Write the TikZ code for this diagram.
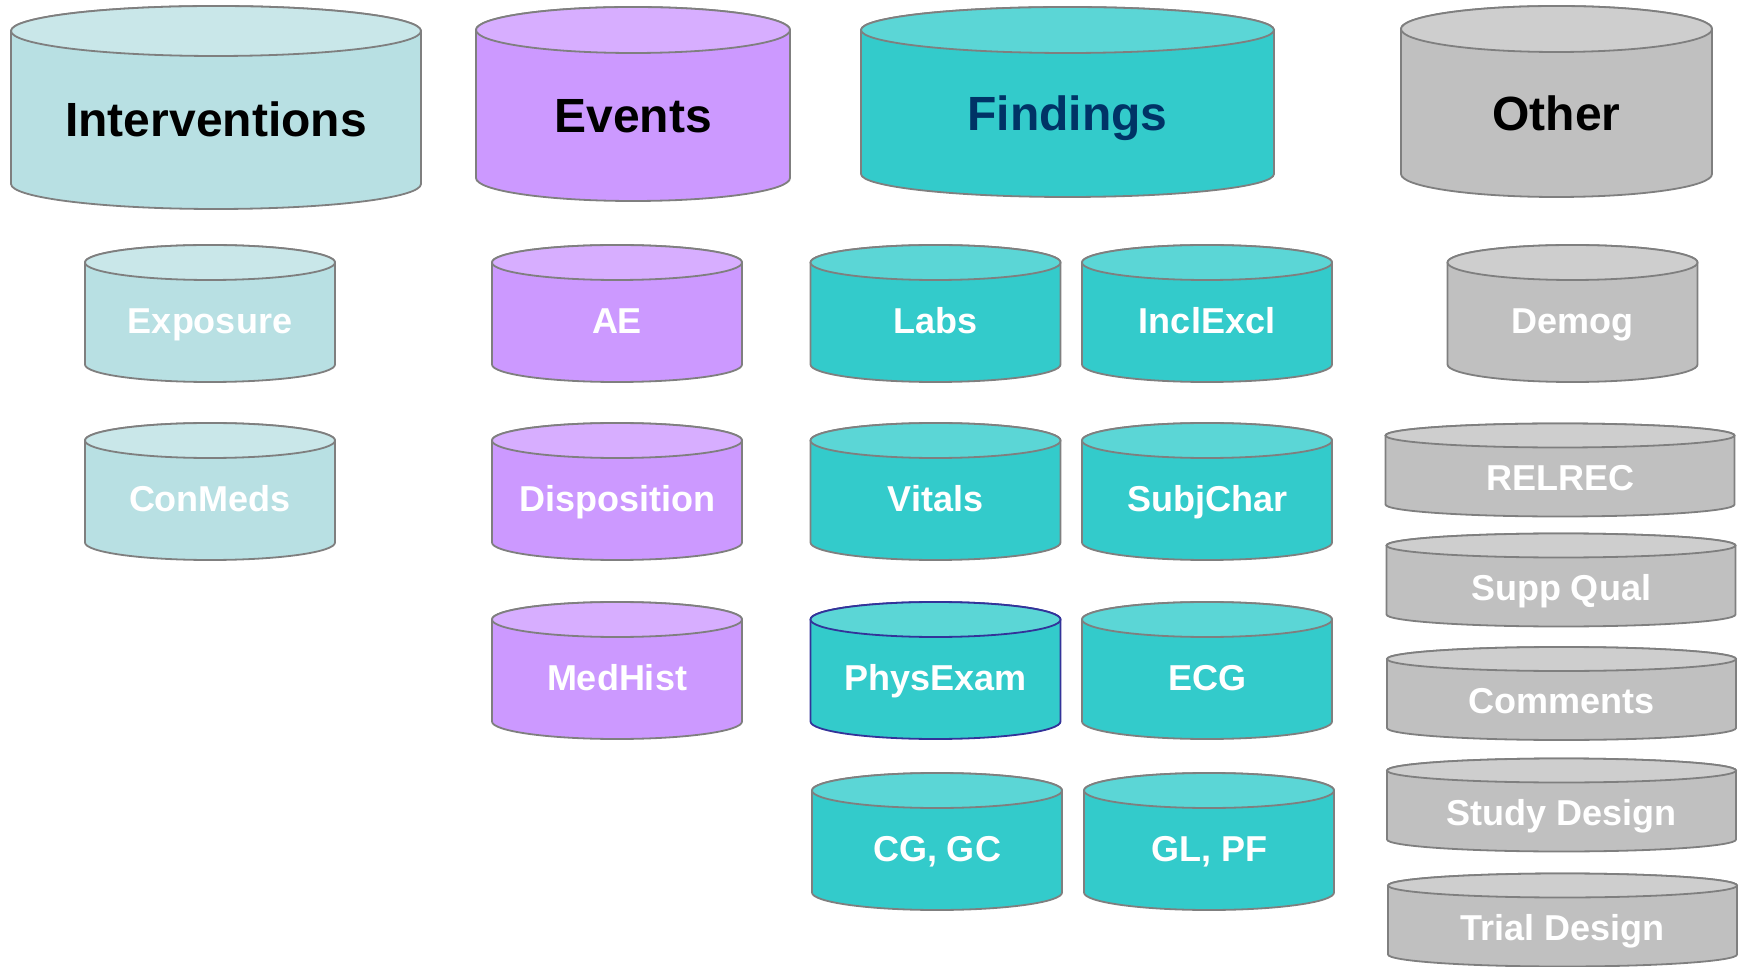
\documentclass[tikz,border=0pt]{standalone}
\usepackage{fontspec}
\setmainfont{Liberation Sans}
\usetikzlibrary{calc, backgrounds}

\definecolor{intbody}{HTML}{B8E0E3}
\definecolor{inttop}{HTML}{C9E7E9}
\definecolor{evbody}{HTML}{CC99FF}
\definecolor{evtop}{HTML}{D7AEFF}
\definecolor{findbody}{HTML}{33CBCB}
\definecolor{findtop}{HTML}{5BD6D6}
\definecolor{othbody}{HTML}{C0C0C0}
\definecolor{othtop}{HTML}{CECECE}
\definecolor{cylline}{HTML}{7F7F7F}
\definecolor{physline}{HTML}{333399}
\definecolor{findtext}{HTML}{003366}

\begin{document}
\begin{tikzpicture}[%
		x=0.5pt, y=-0.5pt,
		classbox/.style={
			rectangle,
			inner sep=0pt,
			outer sep=0pt,
			font=\fontsize{24}{28}\selectfont\bfseries,
			text height=28.7pt,
			text depth=0pt
		},
		dombox/.style={
			rectangle,
			inner sep=0pt,
			outer sep=0pt,
			minimum width=125pt,
			minimum height=68.5pt,
			text=white,
			font=\fontsize{18}{21}\selectfont\bfseries,
			text height=20.4pt,
			text depth=0pt
		},
		flatbox/.style={
			dombox,
			minimum width=174.5pt,
			minimum height=46.5pt
		}]

		\useasboundingbox (0,0) rectangle (1744,967);

		% CLASSES

		\node[classbox, minimum width=205pt, minimum height=101.5pt] (interv) at (216,107.5) {Interventions};
		\node[classbox, minimum width=157pt, minimum height=97pt] (events) at (633,104) {Events};
		\node[classbox, minimum width=206.5pt, minimum height=95pt, text=findtext] (find) at (1067.5,102) {Findings};
		\node[classbox, minimum width=155.5pt, minimum height=95.5pt] (other) at (1556.5,101.5) {Other};

		% INTERVENTIONS DOMAINS

		\node[dombox] (expo) at (210,313.5) {Exposure};
		\node[dombox] (conmeds) at (210,491.5) {ConMeds};

		% EVENTS DOMAINS

		\node[dombox] (ae) at (617,313.5) {AE};
		\node[dombox] (dispo) at (617,491.5) {Disposition};
		\node[dombox] (medhist) at (617,670.5) {MedHist};

		% FINDINGS DOMAINS

		\node[dombox] (labs) at (935.5,313.5) {Labs};
		\node[dombox] (vitals) at (935.5,491.5) {Vitals};
		\node[dombox] (physexam) at (935.5,670.5) {PhysExam};
		\node[dombox] (cggc) at (937,841.5) {CG, GC};
		\node[dombox] (inclexcl) at (1207,313.5) {InclExcl};
		\node[dombox] (subjchar) at (1207,491.5) {SubjChar};
		\node[dombox] (ecg) at (1207,670.5) {ECG};
		\node[dombox] (glpf) at (1209,841.5) {GL, PF};

		% OTHER DOMAINS

		\node[dombox] (demog) at (1572.5,313.5) {Demog};
		\node[flatbox] (relrec) at (1560,470) {RELREC};
		\node[flatbox] (suppqual) at (1561,580) {Supp Qual};
		\node[flatbox] (comments) at (1561.5,693.5) {Comments};
		\node[flatbox] (studydes) at (1561.5,805) {Study Design};
		\node[flatbox] (trialdes) at (1562.5,920) {Trial Design};

		% CYLINDERS

		\begin{scope}[on background layer]
			\foreach \nd/\ry/\bodyc/\topc/\linec in {
				interv/12.5pt/intbody/inttop/cylline,
				events/11.5pt/evbody/evtop/cylline,
				find/11.5pt/findbody/findtop/cylline,
				other/11.5pt/othbody/othtop/cylline,
				expo/8.75pt/intbody/inttop/cylline,
				conmeds/8.75pt/intbody/inttop/cylline,
				ae/8.75pt/evbody/evtop/cylline,
				dispo/8.75pt/evbody/evtop/cylline,
				medhist/8.75pt/evbody/evtop/cylline,
				labs/8.75pt/findbody/findtop/cylline,
				vitals/8.75pt/findbody/findtop/cylline,
				physexam/8.75pt/findbody/findtop/physline,
				cggc/8.75pt/findbody/findtop/cylline,
				inclexcl/8.75pt/findbody/findtop/cylline,
				subjchar/8.75pt/findbody/findtop/cylline,
				ecg/8.75pt/findbody/findtop/cylline,
				glpf/8.75pt/findbody/findtop/cylline,
				demog/8.75pt/othbody/othtop/cylline,
				relrec/6pt/othbody/othtop/cylline,
				suppqual/6pt/othbody/othtop/cylline,
				comments/6pt/othbody/othtop/cylline,
				studydes/6pt/othbody/othtop/cylline,
				trialdes/6pt/othbody/othtop/cylline} {
				\path let \p1=(\nd.north west), \p2=(\nd.south east), \n1={(\x2-\x1)/2} in
					[fill=\bodyc, draw=\linec, line width=0.9pt]
					(\x1,{\y1-\ry}) -- (\x1,{\y2+\ry})
					arc[start angle=180, end angle=360, x radius={\n1*1pt}, y radius=\ry]
					-- (\x2,{\y1-\ry})
					arc[start angle=0, end angle=180, x radius={\n1*1pt}, y radius=\ry] -- cycle;
				\path let \p1=(\nd.north west), \p2=(\nd.south east), \n1={(\x2-\x1)/2} in
					[fill=\topc, draw=\linec, line width=0.9pt]
					({\x1+\n1*1pt},{\y1-\ry}) ellipse[x radius={\n1*1pt}, y radius=\ry];
			}
		\end{scope}
\end{tikzpicture}
\end{document}
